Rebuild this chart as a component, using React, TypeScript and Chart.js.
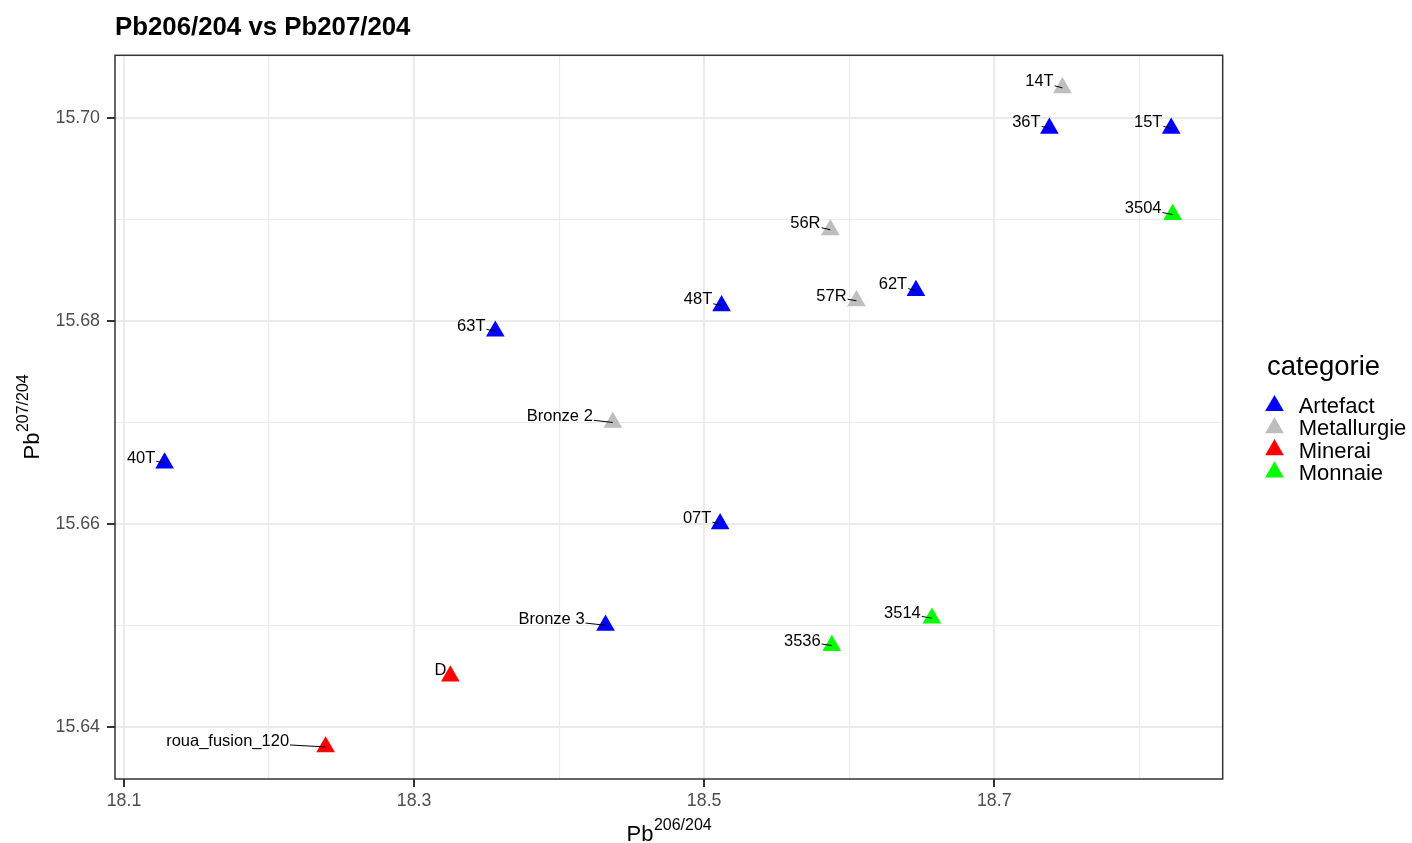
import React, { useEffect, useRef } from 'react';
import { Chart, registerables } from 'chart.js';

Chart.register(...registerables);

// ---- data ----
const sampleNames = ['14T', '36T', '15T', '3504', '56R', '62T', '57R', '48T', '63T', 'Bronze 2', '40T', '07T', 'Bronze 3', '3514', '3536', 'D', 'roua_fusion_120'];
const pb206_204 = [18.747, 18.738, 18.822, 18.823, 18.587, 18.646, 18.605, 18.512, 18.356, 18.437, 18.128, 18.511, 18.432, 18.657, 18.588, 18.325, 18.239];
const pb207_204 = [15.703, 15.699, 15.699, 15.6905, 15.689, 15.683, 15.682, 15.6815, 15.679, 15.670, 15.666, 15.660, 15.650, 15.6507, 15.648, 15.645, 15.638];
const sampleCategory = ['Metallurgie', 'Artefact', 'Artefact', 'Monnaie', 'Metallurgie', 'Artefact', 'Metallurgie', 'Artefact', 'Artefact', 'Metallurgie', 'Artefact', 'Artefact', 'Artefact', 'Monnaie', 'Monnaie', 'Minerai', 'Minerai'];
const categories = ['Artefact', 'Metallurgie', 'Minerai', 'Monnaie'];
const xTickValues = [18.1, 18.2, 18.3, 18.4, 18.5, 18.6, 18.7, 18.8];
const yTickValues = [15.64, 15.65, 15.66, 15.67, 15.68, 15.69, 15.70];

// ---- styles / layout ----
const categoryColors = ['#0000FF', '#BEBEBE', '#FF0000', '#00FF00'];
// label text-centre offsets (px) relative to the point, as placed by the repel layout
const labelOffsets: Record<string, [number, number]> = {
  '14T': [-23, -6], '36T': [-23, -6], '15T': [-23, -6], '3504': [-29.5, -6],
  '56R': [-25, -6], '62T': [-23, -6], '57R': [-25, -4.5], '48T': [-23.5, -6],
  '63T': [-24, -5], 'Bronze 2': [-53, -6], '40T': [-23.5, -5], '07T': [-23, -5],
  'Bronze 3': [-54, -6], '3514': [-29.5, -5], '3536': [-29.5, -4.5], 'D': [-10, -6],
  'roua_fusion_120': [-98, -5.5],
};
const FONT = '"Liberation Sans", Arial, Helvetica, sans-serif';
const W = 1412;
const H = 843;
const PLOT = { left: 115, right: 1222.7, top: 55.3, bottom: 779 };
const POINT_R = 10.8;

function triangle(ctx: CanvasRenderingContext2D, cx: number, cy: number, r: number, color: string) {
  const s = Math.sin(Math.PI / 3) * r;
  ctx.beginPath();
  ctx.moveTo(cx, cy - r);
  ctx.lineTo(cx + s, cy + r / 2);
  ctx.lineTo(cx - s, cy + r / 2);
  ctx.closePath();
  ctx.fillStyle = color;
  ctx.fill();
}

function measureSupTitle(ctx: CanvasRenderingContext2D, cx: number, sup: string) {
  ctx.font = `22px ${FONT}`;
  const w1 = ctx.measureText('Pb').width;
  ctx.font = `16px ${FONT}`;
  const w2 = ctx.measureText(sup).width;
  return { w1, w2, start: cx - (w1 + w2) / 2 };
}

const decorPlugin = {
  id: 'decor',
  beforeDatasetsDraw(chart: any) {
    const ctx = chart.ctx as CanvasRenderingContext2D;
    const a = chart.chartArea;
    ctx.save();
    ctx.strokeStyle = '#333333';
    ctx.lineWidth = 1.5;
    ctx.strokeRect(a.left, a.top, a.right - a.left, a.bottom - a.top);
    ctx.restore();
  },
  afterDatasetsDraw(chart: any) {
    const ctx = chart.ctx as CanvasRenderingContext2D;
    ctx.save();
    ctx.font = `16.5px ${FONT}`;
    ctx.textAlign = 'center';
    ctx.textBaseline = 'middle';
    chart.data.datasets.forEach((ds: any, di: number) => {
      const meta = chart.getDatasetMeta(di);
      meta.data.forEach((el: any, i: number) => {
        const name = ds.data[i].name as string;
        const off = labelOffsets[name] || [-20, -6];
        const tx = el.x + off[0];
        const ty = el.y + off[1];
        const tw = ctx.measureText(name).width;
        const hw = tw / 2 + 1;
        const hh = 7;
        const dx = el.x - tx;
        const dy = el.y - ty;
        let t = Infinity;
        if (Math.abs(dx) > 0) t = Math.min(t, hw / Math.abs(dx));
        if (Math.abs(dy) > 0) t = Math.min(t, hh / Math.abs(dy));
        if (t < 1) {
          const sx = tx + dx * t;
          const sy = ty + dy * t;
          const len = Math.hypot(el.x - sx, el.y - sy);
          if (len > 6) {
            ctx.beginPath();
            ctx.moveTo(sx, sy);
            ctx.lineTo(el.x, el.y);
            ctx.strokeStyle = '#000000';
            ctx.lineWidth = 1;
            ctx.stroke();
          }
        }
        ctx.fillStyle = '#000000';
        ctx.fillText(name, tx, ty);
      });
    });
    ctx.restore();
  },
  afterDraw(chart: any) {
    const ctx = chart.ctx as CanvasRenderingContext2D;
    const a = chart.chartArea;
    ctx.save();
    ctx.fillStyle = '#000000';
    ctx.textAlign = 'left';
    ctx.textBaseline = 'alphabetic';
    // title
    ctx.font = `bold 25.8px ${FONT}`;
    ctx.fillText('Pb206/204 vs Pb207/204', a.left, 34.5);

    // x axis title
    const cx = (a.left + a.right) / 2;
    let m = measureSupTitle(ctx, cx, '206/204');
    ctx.font = `22px ${FONT}`;
    ctx.fillText('Pb', m.start, 841);
    ctx.font = `16px ${FONT}`;
    ctx.fillText('206/204', m.start + m.w1 + 0.5, 830);

    // y axis title
    const cy = (a.top + a.bottom) / 2;
    ctx.save();
    ctx.translate(39.3, cy);
    ctx.rotate(-Math.PI / 2);
    m = measureSupTitle(ctx, 0, '207/204');
    ctx.font = `22px ${FONT}`;
    ctx.fillText('Pb', m.start, 0);
    ctx.font = `16px ${FONT}`;
    ctx.fillText('207/204', m.start + m.w1 + 0.5, -11);
    ctx.restore();

    // legend
    ctx.font = `27.5px ${FONT}`;
    ctx.fillStyle = '#000000';
    ctx.fillText('categorie', 1267, 375);
    ctx.font = `22px ${FONT}`;
    categories.forEach((c, i) => {
      const y = 405.7 + i * 22.1;
      triangle(ctx, 1274.5, y, POINT_R, categoryColors[i]);
      ctx.fillStyle = '#000000';
      ctx.fillText(c, 1298.7, y + 7.6);
    });
    ctx.restore();
  },
};

export default function App() {
  const ref = useRef<HTMLCanvasElement | null>(null);
  useEffect(() => {
    if (!ref.current) return;
    const datasets = categories.map((cat, ci) => ({
      label: cat,
      data: sampleNames
        .map((n, i) => ({ x: pb206_204[i], y: pb207_204[i], name: n, cat: sampleCategory[i] }))
        .filter((p) => p.cat === cat),
      backgroundColor: categoryColors[ci],
      borderColor: categoryColors[ci],
      borderWidth: 0,
      pointStyle: 'triangle',
      pointRadius: POINT_R,
      pointHoverRadius: POINT_R,
    }));
    const isMajorX = (v: number) => Math.round(v * 10) % 2 === 1;
    const isMajorY = (v: number) => Math.round(v * 100) % 2 === 0;
    const chart = new Chart(ref.current, {
      type: 'scatter',
      data: { datasets } as any,
      plugins: [decorPlugin],
      options: {
        animation: false,
        responsive: false,
        events: [],
        layout: { padding: { top: PLOT.top, right: W - PLOT.right, left: 0, bottom: 0 } },
        plugins: { legend: { display: false }, tooltip: { enabled: false }, title: { display: false } },
        scales: {
          x: {
            type: 'linear',
            min: 18.0938,
            max: 18.8575,
            afterBuildTicks: (s: any) => { s.ticks = xTickValues.map((v) => ({ value: v })); },
            afterFit: (s: any) => { s.height = H - PLOT.bottom; },
            border: { display: false },
            grid: {
              color: '#ebebeb',
              lineWidth: (c: any) => (c.tick && isMajorX(c.tick.value) ? 2 : 1.1),
              drawTicks: true,
              tickLength: 8,
              tickWidth: 2,
              tickColor: (c: any) => (c.tick && isMajorX(c.tick.value) ? '#333333' : 'rgba(0,0,0,0)'),
            },
            ticks: {
              autoSkip: false,
              maxRotation: 0,
              padding: 3,
              color: '#4d4d4d',
              font: { family: FONT, size: 17.8 },
              callback: (v: any) => (isMajorX(Number(v)) ? Number(v).toFixed(1) : ''),
            },
          },
          y: {
            type: 'linear',
            min: 15.63484,
            max: 15.70621,
            afterBuildTicks: (s: any) => { s.ticks = yTickValues.map((v) => ({ value: v })); },
            afterFit: (s: any) => { s.width = PLOT.left; },
            border: { display: false },
            grid: {
              color: '#ebebeb',
              lineWidth: (c: any) => (c.tick && isMajorY(c.tick.value) ? 2 : 1.1),
              drawTicks: true,
              tickLength: 8,
              tickWidth: 2,
              tickColor: (c: any) => (c.tick && isMajorY(c.tick.value) ? '#333333' : 'rgba(0,0,0,0)'),
            },
            ticks: {
              autoSkip: false,
              padding: 7,
              color: '#4d4d4d',
              font: { family: FONT, size: 17.8 },
              callback: (v: any) => (isMajorY(Number(v)) ? Number(v).toFixed(2) : ''),
            },
          },
        },
      } as any,
    });
    return () => chart.destroy();
  }, []);
  return (
    <div style={{ position: 'absolute', left: 0, top: 0, width: W, height: H, background: '#ffffff' }}>
      <canvas ref={ref} width={W} height={H} style={{ width: W, height: H, display: 'block' }} />
    </div>
  );
}
